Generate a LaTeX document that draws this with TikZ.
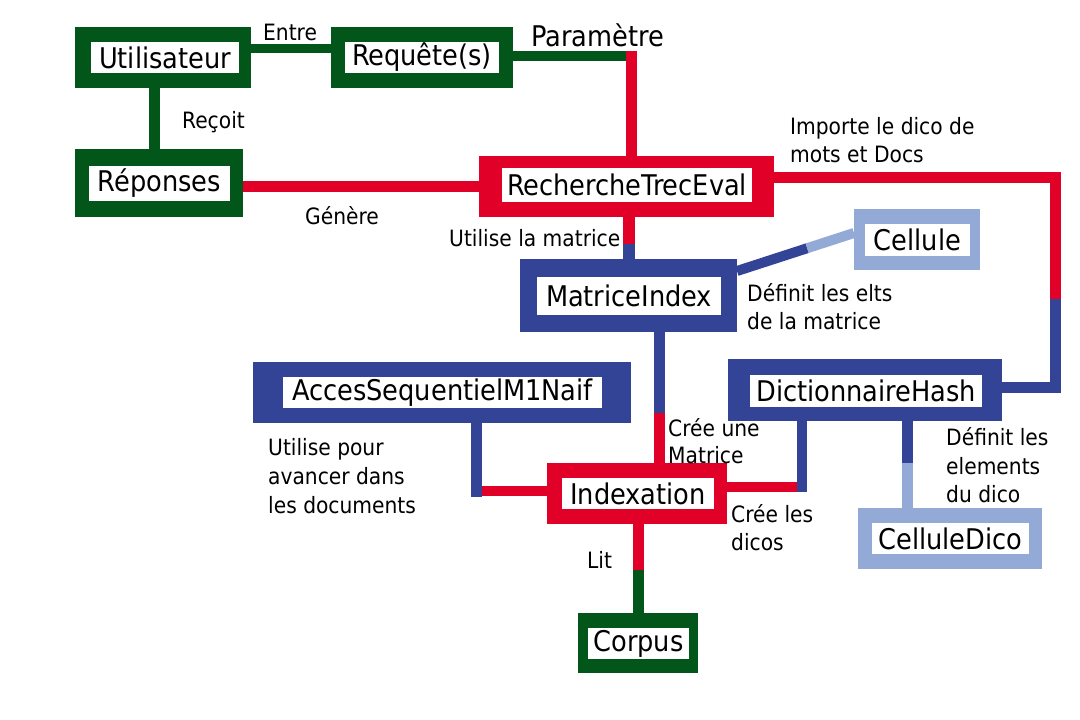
\documentclass[tikz,border=0pt]{standalone}
\usepackage{fontspec}
\setmainfont{DejaVu Sans Condensed}
\usetikzlibrary{calc}
\definecolor{cgreen}{RGB}{3,86,26}
\definecolor{cred}{RGB}{224,0,40}
\definecolor{cblue}{RGB}{51,68,150}
\definecolor{clight}{RGB}{147,169,214}
\begin{document}
\begin{tikzpicture}[x=1pt,y=-1pt,
  outerbox/.style={fill=#1, draw=none, inner sep=0pt, outer sep=0pt, rectangle},
  inbox/.style={fill=white, draw=none, inner sep=0pt, outer sep=0pt, rectangle, font=\fontsize{28.5}{32}\selectfont},
  lbl/.style={anchor=west, inner sep=0pt, align=left, font=\fontsize{22.5}{27.5}\selectfont},
  conn/.style={line width=#1, line cap=butt, line join=miter},
]
\fill[white] (0,0) rectangle (1080,720);
\useasboundingbox (0,0) rectangle (1080,720);

% ---------- boxes ----------
\node[outerbox=cgreen, minimum width=176, minimum height=61] (u) at (163,57.5) {};
\node[inbox, minimum width=148, minimum height=31] (ut) at (165,57.5) {Utilisateur};

\node[outerbox=cgreen, minimum width=182, minimum height=61] (r) at (422,57.5) {};
\node[inbox, minimum width=154, minimum height=31] (rt) at (422,57.5) {Requête(s)};

\node[outerbox=cgreen, minimum width=168, minimum height=68] (rep) at (159,183) {};
\node[inbox, minimum width=141, minimum height=35] (rept) at (159.5,183.5) {Réponses};

\node[outerbox=cred, minimum width=295, minimum height=61] (rte) at (626.5,186.5) {};
\node[inbox, minimum width=250, minimum height=34] (rtet) at (627,185) {RechercheTrecEval};

\node[outerbox=cblue, minimum width=217, minimum height=73] (mi) at (628.5,295.5) {};
\node[inbox, minimum width=184, minimum height=38] (mit) at (629,296) {MatriceIndex};

\node[outerbox=clight, minimum width=126, minimum height=61] (cel) at (917,239.5) {};
\node[inbox, minimum width=105, minimum height=32] (celt) at (917.5,240) {Cellule};

\node[outerbox=cblue, minimum width=378, minimum height=61] (acc) at (442,392.5) {};
\node[inbox, minimum width=319, minimum height=31] (acct) at (442.5,392.5) {AccesSequentielM1Naif};

\node[outerbox=cblue, minimum width=274, minimum height=62] (dh) at (865,390) {};
\node[inbox, minimum width=232, minimum height=32] (dht) at (866,391) {DictionnaireHash};

\node[outerbox=cred, minimum width=180, minimum height=61] (idx) at (637,493.5) {};
\node[inbox, minimum width=152, minimum height=31] (idxt) at (638,493.5) {Indexation};

\node[outerbox=clight, minimum width=184, minimum height=61] (cd) at (950,538.5) {};
\node[inbox, minimum width=157, minimum height=31] (cdt) at (950.5,538.5) {CelluleDico};

\node[outerbox=cgreen, minimum width=120, minimum height=60] (cor) at (638,643) {};
\node[inbox, minimum width=101, minimum height=31] (cort) at (638.5,643.5) {Corpus};

% ---------- connector corner points ----------
\coordinate (pc) at (631,56);
\coordinate (ec) at (1055.5,177);
\coordinate (em) at (1055.5,299);
\coordinate (eb) at (1055.5,387);
\coordinate (fm) at (629,244);
\coordinate (gs) at (737,271);
\coordinate (ge) at (854,233);
\coordinate (hm) at (659,413);
\coordinate (ic) at (476,491);
\coordinate (jc) at (801.5,487);
\coordinate (kc) at (907.5,463);
\coordinate (lc) at (638.5,570);

% ---------- connectors ----------
% Utilisateur - Requete
\draw[conn=9, cgreen] ([yshift=9]u.east) -- ([yshift=9]r.west);
% Utilisateur - Reponses
\draw[conn=10.5, cgreen] ([xshift=-8.5]u.south) -- ([xshift=-8.5]u.south |- rep.north);
% Requete - RechercheTrecEval
\draw[conn=10, cgreen] ([yshift=1.5]r.east) -- (pc);
\draw[conn=11, cred] ([yshift=5]pc) -- (pc |- rte.north);
% Reponses - RechercheTrecEval
\draw[conn=11, cred] ([yshift=-3.5]rep.east) -- (rte.west);
% RechercheTrecEval - DictionnaireHash
\draw[conn=11, cred] ([yshift=9.5]rte.east) -- (ec) -- (em);
\draw[conn=11, cblue] (em) -- (eb) -- ([yshift=3]dh.east);
% RechercheTrecEval - MatriceIndex
\draw[conn=12, cred] ([xshift=2.5]rte.south) -- (fm);
\draw[conn=12, cblue] (fm) -- (fm |- mi.north);
% MatriceIndex - Cellule
\draw[conn=10, cblue] (gs) -- ($(gs)!0.6!(ge)$);
\draw[conn=10, clight] ($(gs)!0.6!(ge)$) -- (ge);
% MatriceIndex - Indexation
\draw[conn=11, cblue] ([xshift=30.5]mi.south) -- (hm);
\draw[conn=11, cred] (hm) -- (hm |- idx.north);
% AccesSequentielM1Naif - Indexation
\draw[conn=11, cblue] ([xshift=34]acc.south) -- ([yshift=-6]ic);
\draw[conn=10, cred] ([xshift=5.5]ic) -- (ic -| idx.west);
% Indexation - DictionnaireHash
\draw[conn=10, cred] ([yshift=6.5]idx.east) -- (jc);
\draw[conn=10, cblue] ([xshift=-63.5]dh.south) -- ([yshift=-5]jc);
% DictionnaireHash - CelluleDico
\draw[conn=11, cblue] ([xshift=42.5]dh.south) -- (kc);
\draw[conn=11, clight] (kc) -- (kc |- cd.north);
% Indexation - Corpus
\draw[conn=11, cred] ([xshift=1.5]idx.south) -- (lc);
\draw[conn=11, cgreen] (lc) -- (lc |- cor.north);

% ---------- labels ----------
\node[lbl] (l1) at (263,32) {Entre};
\node[lbl, font=\fontsize{28.5}{32}\selectfont] (l2) at (531,35) {Paramètre};
\node[lbl] (l3) at (182,122) {Reçoit};
\node[lbl] (l4) at (305,216) {Génère};
\node[lbl] (l5) at (790,140) {Importe le dico de\\mots et Docs};
\node[lbl] (l6) at (449,238) {Utilise la matrice};
\node[lbl] (l7) at (747,306.5) {Définit les elts\\de la matrice};
\node[lbl, font=\fontsize{22.5}{29}\selectfont] (l8) at (268,476) {Utilise pour\\avancer dans\\les documents};
\node[lbl] (l9) at (668,441) {Crée une\\Matrice};
\node[lbl] (l10) at (731,527.5) {Crée les\\dicos};
\node[lbl, font=\fontsize{22.5}{28.5}\selectfont] (l11) at (946,465.5) {Définit les\\elements\\du dico};
\node[lbl] (l12) at (587,560) {Lit};
\end{tikzpicture}
\end{document}
